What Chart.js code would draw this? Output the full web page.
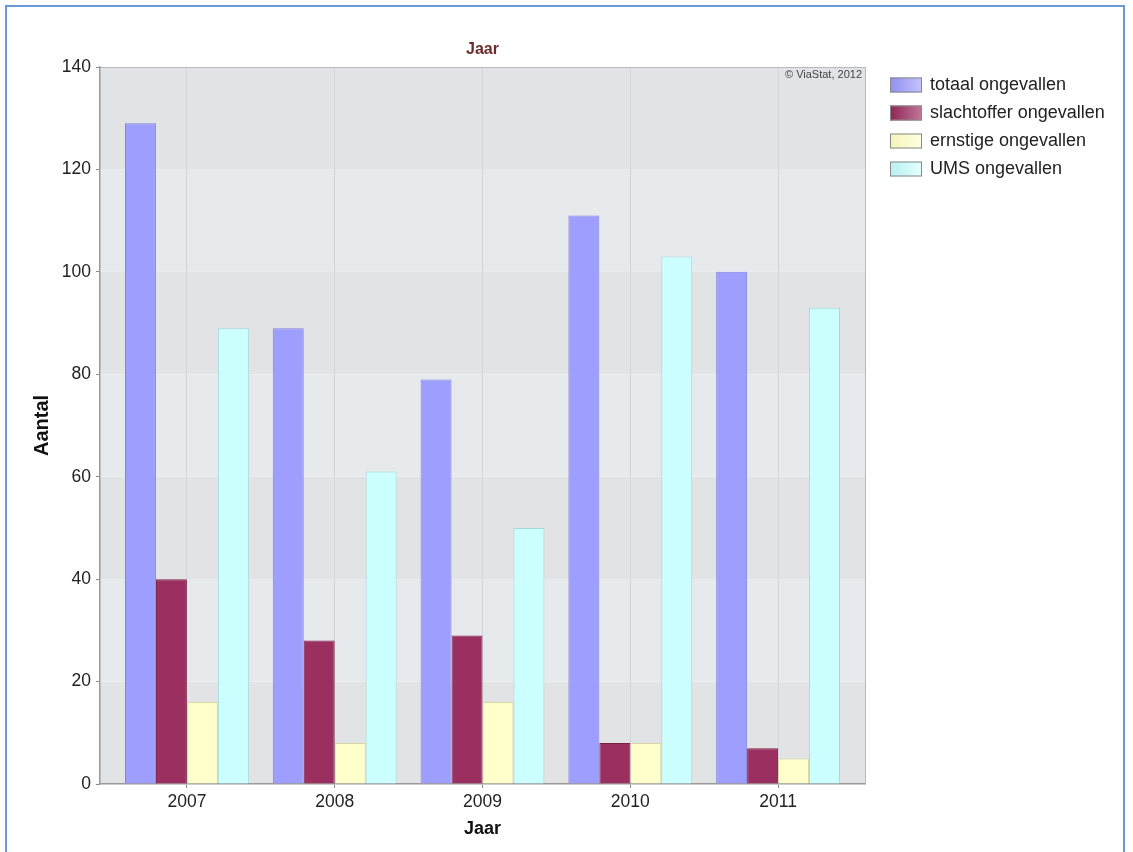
<!DOCTYPE html>
<html>
<head>
<meta charset="utf-8">
<script src="https://cdn.jsdelivr.net/npm/chart.js@4"></script>
<style>
  html, body { margin: 0; padding: 0; background: #ffffff; }
  #wrap { position: relative; width: 1133px; height: 852px; overflow: hidden; }
  #frame { position: absolute; left: 5px; top: 5px; width: 1120px; height: 900px;
           border: 2px solid #6b98d8; box-sizing: border-box; }
  canvas { position: absolute; left: 0; top: 0; }
</style>
</head>
<body>
<div id="wrap">
  <div id="frame"></div>
  <canvas id="c" width="1133" height="852"></canvas>
</div>
<script>
// Jaarlijkse ongevallen per categorie
const years = ['2007', '2008', '2009', '2010', '2011'];
const totaal = [129, 89, 79, 111, 100];
const slachtoffer = [40, 28, 29, 8, 7];
const ernstig = [16, 8, 16, 8, 5];
const ums = [89, 61, 50, 103, 93];
const seriesNames = ['totaal ongevallen', 'slachtoffer ongevallen', 'ernstige ongevallen', 'UMS ongevallen'];
const yTicks = [0, 20, 40, 60, 80, 100, 120, 140];

const FONT = '"Liberation Sans", Arial, sans-serif';
const fills = ['#9e9eff', '#9b2f5f', '#ffffcc', '#ccffff'];
const borders = ['#8282dc', '#7c2048', '#d6d6a8', '#a6d8d8'];
const legendDark = ['#9090f0', '#8e2555', '#f4f4b8', '#b8f0f0'];
const legendLight = ['#c4c4ff', '#c07898', '#ffffe4', '#e4ffff'];

const toPoints = arr => arr.map((v, i) => ({ x: i, y: v }));
const seriesValues = [totaal, slachtoffer, ernstig, ums];

const datasets = seriesValues.map((vals, k) => ({
  label: seriesNames[k],
  data: toPoints(vals),
  backgroundColor: fills[k],
  borderColor: borders[k],
  borderWidth: 1,
  barPercentage: 1,
  categoryPercentage: 0.838
}));

// Alternating horizontal bands behind the bars
const bandsPlugin = {
  id: 'bands',
  beforeDraw(chart) {
    const { ctx, chartArea: a, scales: { y } } = chart;
    ctx.save();
    for (let i = 0; i < yTicks.length - 1; i++) {
      const top = y.getPixelForValue(yTicks[i + 1]);
      const bot = y.getPixelForValue(yTicks[i]);
      ctx.fillStyle = i % 2 === 0 ? '#e2e3e5' : '#e7eaed';
      ctx.fillRect(a.left, top, a.right - a.left, bot - top);
    }
    ctx.restore();
  }
};

// Plot frame, header title, credit line and legend
const decorPlugin = {
  id: 'decor',
  afterDraw(chart) {
    const { ctx, chartArea: a } = chart;
    ctx.save();
    ctx.strokeStyle = '#b8b8b8';
    ctx.lineWidth = 1;
    ctx.beginPath();
    ctx.moveTo(a.left, a.top + 0.5);
    ctx.lineTo(a.right + 0.5, a.top + 0.5);
    ctx.lineTo(a.right + 0.5, a.bottom);
    ctx.stroke();

    ctx.fillStyle = '#6b2b2b';
    ctx.font = 'bold 16px ' + FONT;
    ctx.textAlign = 'center';
    ctx.textBaseline = 'middle';
    ctx.fillText('Jaar', (a.left + a.right) / 2, 50);

    ctx.fillStyle = '#444444';
    ctx.font = '11px ' + FONT;
    ctx.textAlign = 'right';
    ctx.fillText('\u00a9 ViaStat, 2012', a.right - 3, 75);

    ctx.font = '18px ' + FONT;
    ctx.textAlign = 'left';
    seriesNames.forEach((name, k) => {
      const cy = 84.5 + k * 28;
      const g = ctx.createLinearGradient(890, 0, 922, 0);
      g.addColorStop(0, legendDark[k]);
      g.addColorStop(1, legendLight[k]);
      ctx.fillStyle = g;
      ctx.fillRect(890, cy - 7, 32, 15);
      ctx.strokeStyle = '#888888';
      ctx.strokeRect(890.5, cy - 6.5, 31, 14);
      ctx.fillStyle = '#222222';
      ctx.fillText(name, 930, cy + 1);
    });
    ctx.restore();
  }
};

new Chart(document.getElementById('c'), {
  type: 'bar',
  data: { datasets },
  options: {
    responsive: false,
    animation: false,
    layout: { padding: { left: 26, right: 268, top: 67, bottom: 8 } },
    plugins: { legend: { display: false }, tooltip: { enabled: false } },
    scales: {
      x: {
        type: 'linear',
        min: -0.588,
        max: 4.588,
        offset: false,
        afterBuildTicks: s => { s.ticks = years.map((_, i) => ({ value: i })); },
        afterFit: s => { s.height = 60; },
        grid: { offset: false, color: '#d4d5d8', tickColor: '#888888', tickLength: 4 },
        border: { color: '#9a9a9a', width: 1.5 },
        ticks: { callback: v => years[v], color: '#222222', font: { family: FONT, size: 17.5 }, padding: 4, maxRotation: 0 },
        title: { display: true, text: 'Jaar', color: '#111111', font: { family: FONT, size: 18, weight: 'bold' }, padding: { top: 4, bottom: 4 } }
      },
      y: {
        min: 0,
        max: 140,
        afterBuildTicks: s => { s.ticks = yTicks.map(v => ({ value: v })); },
        afterFit: s => { s.width = 74; },
        grid: { drawOnChartArea: false, tickColor: '#888888', tickLength: 4 },
        border: { color: '#9a9a9a', width: 1.5 },
        ticks: { color: '#222222', font: { family: FONT, size: 17.5 }, padding: 5 },
        title: { display: true, text: 'Aantal', color: '#111111', font: { family: FONT, size: 20, weight: 'bold' }, padding: { top: 4, bottom: 4 } }
      }
    }
  },
  plugins: [bandsPlugin, decorPlugin]
});
</script>
</body>
</html>
